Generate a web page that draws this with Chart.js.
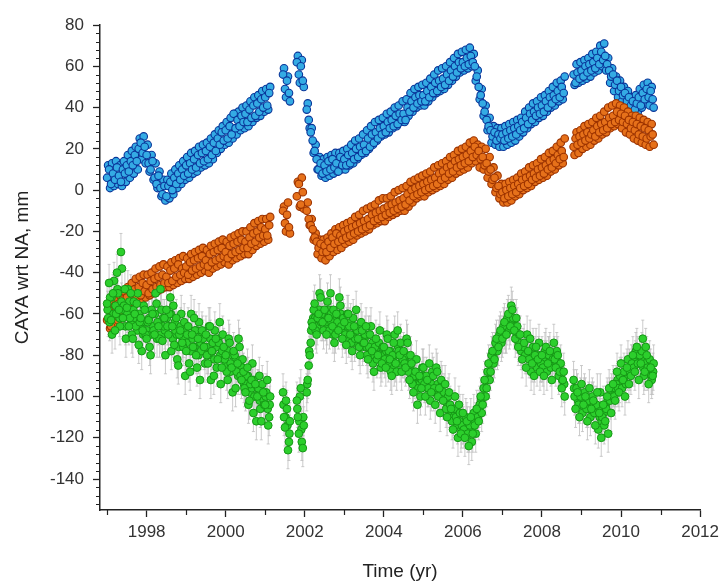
<!DOCTYPE html>
<html>
<head>
<meta charset="utf-8">
<script src="https://cdn.jsdelivr.net/npm/chart.js@4.4.1/dist/chart.umd.min.js"></script>
<style>
  html, body { margin: 0; padding: 0; background: #ffffff; }
  #wrap { width: 724px; height: 585px; position: relative; }
</style>
</head>
<body>
<div id="wrap"><canvas id="c" width="724" height="585"></canvas></div>
<script>
// Sampling of the series (years); null = no data.
// "...Values"  are samples at T0 + i*STEP
// "...Values2" are samples at T0 + STEP/2 + i*STEP
// "greenValues3" are samples at T0 + STEP/4 + i*STEP
const T0 = 1997.0;
const STEP = 0.05;

const xTickLabels = [1998, 2000, 2002, 2004, 2006, 2008, 2010, 2012];
const yTickLabels = [-140, -120, -100, -80, -60, -40, -20, 0, 20, 40, 60, 80];

const blueValues = [
  6, 10, 3, 8, 5, 11, 7, 4, 10, 8,
  12, 9, 14, 12, 17, 14, 20, 23, 18, 21,
  17, 13, 10, 14, 6, 3, 7, 1, -2, 2,
  -3, 2, 4, 0, 6, 3, 8, 5, 10, 7,
  12, 8, 13, 10, 15, 11, 17, 13, 18, 14,
  19, 15, 21, 17, 23, 19, 25, 22, 28, 24,
  29, 25, 31, 27, 37, 30, 34, 31, 36, 33,
  37, 33, 39, 35, 41, 36, 42, 38, 44, 40,
  45, 41, 47,
  null, null, null, null, null, null,
  56, 49, 53, 47,
  null, null, null,
  62, 56, 60, 53,
  null,
  39, 34, 28, 24, 19, 15, 10, 13, 8,
  12, 9, 14, 10, 15, 11, 13, 9, 16, 12,
  15, 12, 17, 13, 18, 15, 20, 16, 21, 18,
  22, 19, 25, 21, 27, 23, 28, 25, 30, 27,
  31, 28, 33, 30, 34, 31, 36, 32, 37, 34,
  37, 34, 40, 38, 43, 40, 45, 42, 46, 43,
  46, 43, 48, 45, 50, 47, 52, 48, 53, 50,
  54, 51, 56, 53, 58, 55, 60, 57, 62, 59,
  62, 60, 64, 61, 65, 62, 60, 55, 50, 46,
  42, 38, 34, 31, 29, 26, 28, 24, 27, 25,
  27, 24, 28, 25, 29, 26, 30, 27, 31, 29,
  33, 30, 35, 32, 37, 34, 38, 36, 40, 37,
  41, 38, 43, 40, 45, 42, 46, 44, 48, 45,
  50, 47,
  null, null, null, null,
  56, 52, 57, 54, 58, 55, 60, 57, 61, 58,
  62, 59, 64, 61, 67, 63, 65, 61, 58, 55,
  56, 51, 53, 48, 50, 46, 47, 43, 45, 41,
  43, 39, 42, 45, 41, 47, 44, 49, 45, 48,
  44
];

const blueValues2 = [
  12, 1, 13, 2, 14, 3, 12, 2, 14, 4,
  17, 6, 19, 8, 21, 10, 25, 15, 26, 13,
  22, 9, 17, 5, 13, 1, 9, -3, 5, -5,
  5, -4, 8, -2, 10, 1, 12, 3, 14, 5,
  16, 6, 18, 8, 19, 9, 21, 11, 22, 12,
  23, 13, 25, 15, 27, 18, 29, 20, 31, 22,
  33, 23, 35, 25, 37, 27, 38, 29, 40, 30,
  41, 31, 43, 33, 45, 35, 46, 36, 48, 38,
  49, 39, 50,
  null, null, null, null, null, null,
  59, 45, 55, 43,
  null, null, null,
  65, 52, 63, 50,
  null,
  42, 30, 30, 18, 22, 10, 16, 7, 15,
  6, 16, 7, 17, 8, 18, 9, 18, 10, 19,
  10, 20, 12, 22, 13, 24, 15, 25, 17, 27,
  18, 29, 20, 31, 22, 33, 24, 34, 26, 35,
  27, 37, 28, 38, 30, 40, 31, 41, 33, 43,
  33, 44, 36, 47, 38, 49, 40, 50, 41, 51,
  41, 52, 43, 54, 45, 56, 47, 58, 48, 59,
  49, 60, 51, 62, 53, 64, 55, 66, 57, 67,
  58, 68, 59, 69, 60, 66, 53, 58, 44, 49,
  36, 41, 29, 35, 23, 31, 22, 30, 21, 30,
  21, 31, 22, 32, 23, 33, 24, 34, 26, 35,
  28, 38, 30, 40, 32, 42, 33, 43, 35, 45,
  36, 46, 38, 48, 40, 50, 41, 52, 43, 53,
  44, 55,
  null, null, null, null,
  51, 61, 52, 62, 53, 63, 54, 64, 55, 66,
  57, 67, 58, 70, 60, 71, 58, 64, 52, 59,
  48, 55, 45, 53, 43, 50, 41, 48, 38, 45,
  37, 46, 38, 49, 40, 51, 42, 52, 41, 50,
  40
];

const orangeValues = [
  -63, -58, -66, -60, -56, -61, -55, -59, -53, -57,
  -52, -56, -50, -54, -48, -52, -47, -51, -45, -49,
  -46, -50, -44, -48, -43, -47, -42, -46, -41, -45,
  -42, -45, -39, -44, -38, -42, -36, -41, -38, -40,
  -37, -41, -35, -39, -34, -38, -33, -37, -32, -36,
  -34, -37, -31, -35, -30, -34, -29, -33, -28, -32,
  -30, -33, -27, -31, -26, -30, -25, -29, -24, -28,
  -25, -28, -23, -26, -21, -25, -20, -23, -18, -22,
  -19, -22, -17,
  null, null, null, null, null, null,
  -10, -16, -12, -18,
  null, null, null,
  -3, 3, -7, -1,
  null,
  -10, -14, -17, -19, -23, -25, -28, -26, -30,
  -27, -30, -25, -28, -23, -26, -21, -25, -22, -24,
  -20, -23, -19, -22, -18, -21, -17, -20, -16, -19,
  -15, -18, -14, -17, -12, -15, -11, -14, -10, -13,
  -9, -12, -8, -11, -7, -10, -6, -9, -5, -8,
  -4, -7, -2, -5, 0, -3, 1, -2, 2, -1,
  3, 0, 4, 1, 5, 2, 6, 3, 8, 5,
  9, 6, 11, 8, 12, 9, 14, 11, 15, 12,
  16, 13, 17, 14, 19, 16, 21, 17, 19, 15,
  16, 12, 13, 9, 10, 5, 6, 1, 2, -2,
  -1, -4, 0, -3, 1, -2, 2, -1, 3, 1,
  5, 2, 6, 3, 7, 5, 8, 6, 10, 7,
  11, 8, 12, 10, 14, 11, 15, 13, 17, 15,
  19, 16,
  null, null, null, null,
  21, 25, 22, 26, 23, 27, 24, 28, 25, 27,
  29, 26, 31, 28, 32, 29, 33, 30, 35, 32,
  36, 33, 38, 34, 37, 33, 36, 32, 34, 30,
  33, 29, 32, 27, 31, 26, 30, 25, 29, 26,
  27
];

const orangeValues2 = [
  -56, -67, -54, -65, -52, -63, -51, -62, -49, -60,
  -47, -58, -45, -56, -43, -54, -42, -53, -41, -52,
  -41, -51, -40, -50, -38, -49, -37, -48, -36, -47,
  -37, -47, -35, -46, -34, -45, -33, -44, -32, -43,
  -33, -43, -31, -42, -30, -41, -29, -40, -28, -39,
  -29, -40, -27, -38, -26, -37, -25, -36, -24, -35,
  -25, -36, -23, -34, -22, -33, -21, -32, -20, -31,
  -20, -31, -18, -29, -16, -27, -15, -26, -14, -25,
  -14, -24, -13,
  null, null, null, null, null, null,
  -8, -20, -6, -21,
  null, null, null,
  4, -8, 6, -9,
  null,
  -6, -17, -14, -24, -21, -31, -24, -33, -24,
  -34, -23, -32, -21, -30, -19, -29, -18, -28, -17,
  -26, -16, -25, -15, -24, -13, -22, -12, -21, -10,
  -20, -9, -19, -8, -17, -7, -16, -5, -15, -4,
  -15, -4, -13, -3, -12, -1, -11, 0, -10, 1,
  -10, 2, -8, 4, -6, 5, -4, 6, -3, 7,
  -3, 8, -1, 9, 0, 11, 1, 12, 2, 13,
  3, 14, 5, 16, 6, 17, 8, 19, 9, 20,
  10, 21, 11, 23, 13, 24, 14, 22, 11, 21,
  10, 20, 6, 16, 3, 11, -1, 7, -4, 3,
  -6, 3, -6, 4, -5, 5, -3, 6, -2, 8,
  0, 9, 1, 11, 2, 12, 4, 13, 5, 15,
  6, 16, 7, 18, 9, 19, 10, 21, 12, 23,
  13, 25,
  null, null, null, null,
  17, 28, 18, 29, 20, 31, 21, 32, 22, 33,
  24, 35, 25, 36, 27, 38, 28, 40, 30, 41,
  31, 42, 32, 41, 30, 40, 28, 38, 27, 36,
  25, 36, 24, 35, 23, 34, 22, 33, 21, 32,
  22
];

const greenValues = [
  -55, -45, -63, -50, -68, -40, -58, -30, -62, -48,
  -57, -66, -50, -72, -60, -55, -75, -62, -68, -58,
  -72, -63, -80, -60, -70, -55, -66, -48, -73, -62,
  -58, -70, -52, -66, -75, -62, -85, -68, -74, -64,
  -78, -66, -88, -70, -62, -80, -72, -92, -68, -76,
  -70, -84, -66, -78, -90, -72, -82, -64, -86, -76,
  -80, -92, -74, -86, -78, -96, -84, -76, -92, -88,
  -98, -86, -102, -92, -108, -94, -100, -90, -112, -98,
  -104, -92, -110,
  null, null, null, null, null, null,
  -98, -115, -106, -122,
  null, null, null,
  -102, -118, -96, -125,
  null,
  -98, -85, -74, -66, -55, -70, -60, -52, -64,
  -58, -70, -62, -50, -66, -74, -60, -68, -56, -72,
  -64, -75, -60, -70, -78, -66, -58, -72, -80, -68,
  -74, -66, -82, -70, -78, -88, -72, -80, -68, -84,
  -76, -86, -72, -82, -90, -74, -84, -68, -80, -88,
  -78, -86, -74, -92, -84, -98, -88, -104, -90, -96,
  -86, -100, -92, -84, -98, -90, -104, -88, -96, -92,
  -102, -94, -110, -98, -106, -116, -100, -112, -104, -118,
  -108, -120, -112, -124, -110, -118, -114, -106, -112, -100,
  -104, -92, -96, -84, -88, -78, -82, -72, -76, -68,
  -72, -64, -70, -60, -66, -58, -68, -62, -76, -70,
  -82, -74, -86, -78, -72, -84, -90, -76, -82, -88,
  -80, -90, -76, -84, -78, -92, -74, -86, -80, -88,
  -96, -88,
  null, null, null, null,
  -92, -106, -98, -110, -94, -104, -100, -112, -96, -106,
  -102, -114, -98, -108, -120, -104, -112, -100, -96, -108,
  -94, -102, -88, -98, -84, -92, -100, -86, -94, -90,
  -80, -88, -76, -92, -84, -72, -88, -80, -94, -86,
  -90
];

const greenValues2 = [
  -62, -52, -70, -44, -60, -50, -66, -38, -56, -72,
  -48, -62, -70, -54, -66, -50, -64, -78, -56, -70,
  -64, -76, -58, -68, -50, -64, -72, -58, -66, -80,
  -66, -60, -78, -56, -68, -82, -70, -60, -76, -90,
  -70, -84, -60, -76, -68, -86, -64, -78, -72, -84,
  -80, -66, -92, -74, -68, -86, -74, -94, -70, -82,
  -88, -72, -84, -98, -80, -88, -72, -90, -82, -96,
  -90, -104, -94, -84, -100, -112, -96, -106, -94, -104,
  -98, -114, -100,
  null, null, null, null, null, null,
  -110, -102, -126, -112,
  null, null, null,
  -110, -100, -122, -114,
  null,
  -92, -80, -64, -58, -68, -62, -50, -60, -68,
  -64, -54, -68, -64, -58, -70, -64, -52, -66, -62,
  -70, -60, -66, -74, -62, -72, -68, -76, -64, -74,
  -70, -80, -76, -66, -84, -76, -82, -74, -86, -76,
  -82, -70, -78, -88, -80, -70, -88, -78, -74, -82,
  -84, -72, -88, -80, -94, -90, -82, -96, -100, -86,
  -94, -90, -96, -102, -88, -96, -86, -100, -108, -94,
  -98, -106, -100, -104, -112, -106, -110, -120, -108, -114,
  -116, -110, -118, -114, -122, -108, -118, -110, -104, -108,
  -96, -100, -88, -92, -80, -84, -74, -78, -70, -74,
  -66, -70, -62, -68, -56, -62, -72, -66, -70, -78,
  -76, -80, -70, -82, -88, -76, -80, -86, -74, -84,
  -86, -78, -88, -80, -86, -82, -82, -78, -90, -84,
  -92, -100,
  null, null, null, null,
  -100, -96, -104, -100, -108, -98, -106, -102, -110, -100,
  -108, -104, -116, -98, -110, -114, -106, -118, -102, -100,
  -100, -94, -96, -90, -96, -88, -94, -82, -88, -84,
  -86, -78, -84, -80, -78, -90, -76, -86, -82, -92,
  -84
];

const greenValues3 = [
  -58, -64, -52, -60, -56, -48, -62, -54, -58, -66,
  -60, -54, -64, -58, -62, -68, -60, -66, -70, -64,
  -68, -62, -70, -66, -60, -72, -64, -70, -62, -68,
  -62, -66, -60, -72, -64, -70, -76, -66, -72, -68,
  -74, -70, -78, -72, -76, -68, -80, -74, -70, -78,
  -76, -80, -72, -78, -82, -76, -72, -80, -78, -82,
  -84, -78, -88, -80, -86, -82, -90, -84, -86, -94,
  -94, -90, -98, -96, -92, -100, -96, -102, -98, -102,
  -100, -106, -104,
  null, null, null, null, null, null,
  -104, -110, -114, -118,
  null, null, null,
  -106, -112, -116, -110,
  null,
  -94, -78, -68, -62, -62, -66, -58, -64, -60,
  -62, -66, -58, -60, -70, -66, -62, -64, -60, -68,
  -68, -66, -72, -64, -70, -74, -68, -66, -72, -76,
  -72, -76, -70, -78, -74, -80, -78, -76, -82, -80,
  -80, -78, -84, -78, -82, -86, -80, -76, -84, -80,
  -82, -80, -84, -86, -88, -92, -94, -90, -94, -92,
  -90, -94, -96, -92, -94, -98, -96, -94, -100, -98,
  -100, -102, -104, -106, -108, -110, -108, -114, -112, -116,
  -114, -116, -114, -118, -116, -114, -112, -110, -106, -102,
  -100, -96, -92, -88, -84, -80, -78, -76, -72, -70,
  -70, -68, -66, -64, -62, -64, -66, -70, -74, -76,
  -78, -78, -80, -80, -82, -80, -84, -82, -80, -84,
  -84, -82, -82, -80, -82, -84, -80, -82, -86, -88,
  -92, -94,
  null, null, null, null,
  -96, -100, -102, -104, -102, -100, -104, -106, -104, -102,
  -104, -108, -106, -110, -112, -108, -104, -102, -100, -98,
  -96, -96, -92, -94, -90, -92, -90, -88, -86, -84,
  -84, -82, -80, -84, -82, -86, -84, -88, -86, -90,
  -88
];

const greenError = 9; // mm, half-length of the grey error bars

function toPoints(values, offset) {
  if (values.length !== 277) throw new Error('bad length ' + values.length);
  const pts = [];
  values.forEach((v, i) => {
    if (v !== null) pts.push({ x: T0 + offset + i * STEP, y: v });
  });
  return pts;
}

const errorBars = {
  id: 'errorBars',
  beforeDatasetsDraw(chart) {
    const ctx = chart.ctx;
    const ys = chart.scales.y;
    ctx.save();
    ctx.strokeStyle = 'rgba(190,190,190,0.8)';
    ctx.lineWidth = 1;
    ctx.beginPath();
    [0, 1, 2].forEach(di => {
      const meta = chart.getDatasetMeta(di);
      meta.data.forEach((el, i) => {
        const raw = chart.data.datasets[di].data[i];
        const px = el.x;
        const top = ys.getPixelForValue(raw.y + greenError);
        const bot = ys.getPixelForValue(raw.y - greenError);
        ctx.moveTo(px, top); ctx.lineTo(px, bot);
        ctx.moveTo(px - 1.5, top); ctx.lineTo(px + 1.5, top);
        ctx.moveTo(px - 1.5, bot); ctx.lineTo(px + 1.5, bot);
      });
    });
    ctx.stroke();
    ctx.restore();
  }
};

const minorTicks = {
  id: 'minorTicks',
  afterDraw(chart) {
    const ctx = chart.ctx;
    const xs = chart.scales.x, ys = chart.scales.y;
    ctx.save();
    ctx.strokeStyle = '#222';
    ctx.lineWidth = 1.2;
    ctx.beginPath();
    for (let v = -152; v <= 80; v += 4) {
      if (v % 20 === 0) continue;
      const py = Math.round(ys.getPixelForValue(v)) + 0.5;
      ctx.moveTo(ys.right - 4, py);
      ctx.lineTo(ys.right, py);
    }
    for (let yr = 1997; yr <= 2011; yr += 2) {
      const px = Math.round(xs.getPixelForValue(yr)) + 0.5;
      ctx.moveTo(px, xs.top);
      ctx.lineTo(px, xs.top + 5);
    }
    ctx.stroke();
    ctx.restore();
  }
};

const greenStyle = { pointRadius: 3.9, pointBorderWidth: 1, backgroundColor: '#2ccf2c', borderColor: '#169616' };
const orangeStyle = { pointRadius: 3.8, pointBorderWidth: 1.1, backgroundColor: '#e6711a', borderColor: '#9c3300' };
const blueStyle = { pointRadius: 3.8, pointBorderWidth: 1.1, backgroundColor: '#34abe4', borderColor: '#0a3599' };

new Chart(document.getElementById('c'), {
  type: 'scatter',
  data: {
    datasets: [
      Object.assign({ label: 'Up', data: toPoints(greenValues, 0) }, greenStyle),
      Object.assign({ label: 'Up 2', data: toPoints(greenValues2, STEP / 2) }, greenStyle),
      Object.assign({ label: 'Up 3', data: toPoints(greenValues3, STEP / 4) }, greenStyle),
      Object.assign({ label: 'East', data: toPoints(orangeValues, 0) }, orangeStyle),
      Object.assign({ label: 'East 2', data: toPoints(orangeValues2, STEP / 2) }, orangeStyle),
      Object.assign({ label: 'North', data: toPoints(blueValues, 0) }, blueStyle),
      Object.assign({ label: 'North 2', data: toPoints(blueValues2, STEP / 2) }, blueStyle)
    ]
  },
  options: {
    responsive: false,
    animation: false,
    devicePixelRatio: 1,
    layout: { padding: { left: 0, right: 22, top: 25, bottom: 0 } },
    plugins: {
      legend: { display: false },
      tooltip: { enabled: false }
    },
    scales: {
      x: {
        type: 'linear',
        min: 1996.82,
        max: 2012,
        afterBuildTicks(scale) {
          scale.ticks = xTickLabels.map(v => ({ value: v }));
        },
        afterFit(scale) { scale.height = 75; },
        ticks: {
          callback: v => String(v),
          font: { family: 'Liberation Sans, Arial, sans-serif', size: 17 },
          color: '#333',
          padding: 5,
          maxRotation: 0,
          autoSkip: false
        },
        grid: { drawOnChartArea: false, tickLength: 7, tickColor: '#222', tickWidth: 1.3 },
        border: { display: true, color: '#222', width: 1.5 },
        title: {
          display: true,
          text: 'Time (yr)',
          font: { family: 'Liberation Sans, Arial, sans-serif', size: 19 },
          color: '#222',
          padding: { top: 0, bottom: 2 }
        }
      },
      y: {
        type: 'linear',
        min: -155,
        max: 80,
        afterBuildTicks(scale) {
          scale.ticks = yTickLabels.map(v => ({ value: v }));
        },
        afterFit(scale) { scale.width = 100; },
        ticks: {
          callback: v => String(v),
          font: { family: 'Liberation Sans, Arial, sans-serif', size: 17 },
          color: '#333',
          padding: 9,
          autoSkip: false
        },
        grid: { drawOnChartArea: false, tickLength: 7, tickColor: '#222', tickWidth: 1.3 },
        border: { display: true, color: '#222', width: 1.5 },
        title: {
          display: true,
          text: 'CAYA wrt NA, mm',
          font: { family: 'Liberation Sans, Arial, sans-serif', size: 19 },
          color: '#222',
          padding: { top: 11, bottom: 0 }
        }
      }
    }
  },
  plugins: [errorBars, minorTicks]
});
</script>
</body>
</html>
